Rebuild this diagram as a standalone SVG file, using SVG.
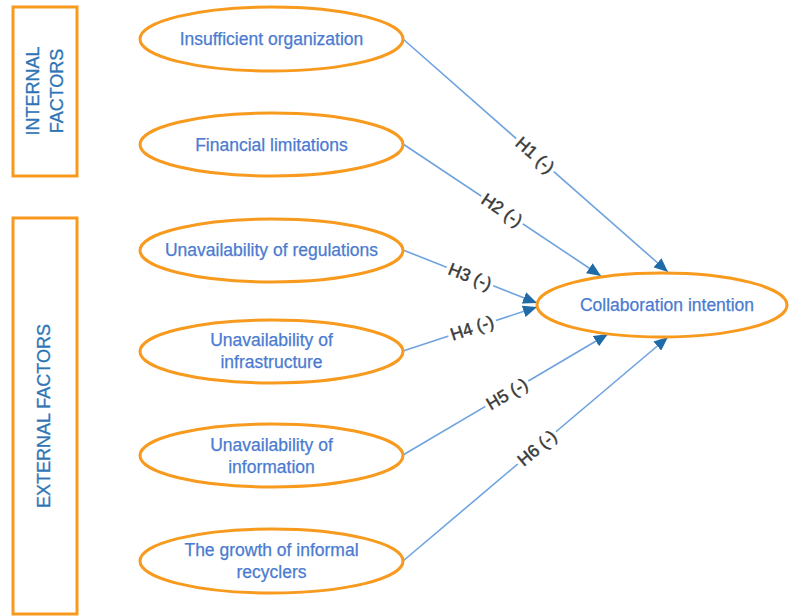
<svg xmlns="http://www.w3.org/2000/svg" width="789" height="616" viewBox="0 0 789 616">
<style>
.box{fill:none;stroke:#F79A1E;stroke-width:3}
.node{fill:#fff;stroke:#F79A1E;stroke-width:3}
.nt{font-family:"Liberation Sans",Arial,sans-serif;font-size:17.5px;fill:#4A7BD0;stroke:#4A7BD0;stroke-width:0.25;text-anchor:middle;dominant-baseline:central}
.side{font-family:"Liberation Sans",Arial,sans-serif;font-size:18px;fill:#2E75B6;stroke:#2E75B6;stroke-width:0.3;text-anchor:middle;dominant-baseline:central}
.edge{stroke:#6FA3E0;stroke-width:1.6;fill:none;marker-end:url(#arr)}
.bg{fill:#fff}
.lbl{font-family:"Liberation Sans",Arial,sans-serif;font-size:17.5px;fill:#3A3A3A;stroke:#3A3A3A;stroke-width:0.45;text-anchor:middle;dominant-baseline:central}
</style>
<defs>
<marker id="arr" markerUnits="userSpaceOnUse" markerWidth="14" markerHeight="12" viewBox="0 0 14 12" refX="14" refY="6" orient="auto">
<path d="M0,0 L14,6 L0,12 Z" fill="#1F6BA8"/>
</marker>
</defs>
<rect width="789" height="616" fill="#fff"/>
<g id="internal-factors">
<rect class="box" x="13" y="7" width="64" height="169"/>
<text class="side" transform="translate(33,91) rotate(-90)">INTERNAL</text>
<text class="side" transform="translate(57,91) rotate(-90)">FACTORS</text>
</g>
<g id="external-factors">
<rect class="box" x="13" y="218" width="64" height="396"/>
<text class="side" transform="translate(44,416) rotate(-90)">EXTERNAL FACTORS</text>
</g>
<g id="connectors">
<line class="edge" x1="403" y1="39" x2="668" y2="272"/>
<line class="edge" x1="403" y1="144" x2="601" y2="276"/>
<line class="edge" x1="403" y1="250" x2="537" y2="303"/>
<line class="edge" x1="403" y1="351" x2="537" y2="307"/>
<line class="edge" x1="403" y1="455" x2="608" y2="334"/>
<line class="edge" x1="403" y1="561" x2="668" y2="337"/>
<g transform="translate(535,155) rotate(41.3)"><rect class="bg" x="-25" y="-8" width="50" height="16"/><text class="lbl">H1 (-)</text></g>
<g transform="translate(502,210) rotate(33.7)"><rect class="bg" x="-25" y="-8" width="50" height="16"/><text class="lbl">H2 (-)</text></g>
<g transform="translate(470,276.5) rotate(21.6)"><rect class="bg" x="-25" y="-8" width="50" height="16"/><text class="lbl">H3 (-)</text></g>
<g transform="translate(472,328) rotate(-18.2)"><rect class="bg" x="-25" y="-8" width="50" height="16"/><text class="lbl">H4 (-)</text></g>
<g transform="translate(507,394) rotate(-30.5)"><rect class="bg" x="-25" y="-8" width="50" height="16"/><text class="lbl">H5 (-)</text></g>
<g transform="translate(537,448) rotate(-40.2)"><rect class="bg" x="-25" y="-8" width="50" height="16"/><text class="lbl">H6 (-)</text></g>
</g>
<g id="n1">
<ellipse class="node" cx="271.5" cy="39" rx="131.5" ry="32"/>
<text class="nt" x="271.5" y="39">Insufficient organization</text>
</g>
<g id="n2">
<ellipse class="node" cx="271.5" cy="144.5" rx="131.5" ry="31.5"/>
<text class="nt" x="271.5" y="144.5">Financial limitations</text>
</g>
<g id="n3">
<ellipse class="node" cx="271.5" cy="250.5" rx="131.5" ry="31.5"/>
<text class="nt" x="271.5" y="250">Unavailability of regulations</text>
</g>
<g id="n4">
<ellipse class="node" cx="271.5" cy="351.5" rx="131.5" ry="31.5"/>
<text class="nt" x="271.5" y="340">Unavailability of</text>
<text class="nt" x="271.5" y="362">infrastructure</text>
</g>
<g id="n5">
<ellipse class="node" cx="271.5" cy="455.5" rx="131.5" ry="31.5"/>
<text class="nt" x="271.5" y="445">Unavailability of</text>
<text class="nt" x="271.5" y="467">information</text>
</g>
<g id="n6">
<ellipse class="node" cx="271.5" cy="561" rx="131.5" ry="32"/>
<text class="nt" x="271.5" y="550">The growth of informal</text>
<text class="nt" x="271.5" y="572">recyclers</text>
</g>
<g id="collaboration">
<ellipse class="node" cx="662" cy="305" rx="125" ry="32"/>
<text class="nt" x="667" y="305">Collaboration intention</text>
</g>
</svg>
